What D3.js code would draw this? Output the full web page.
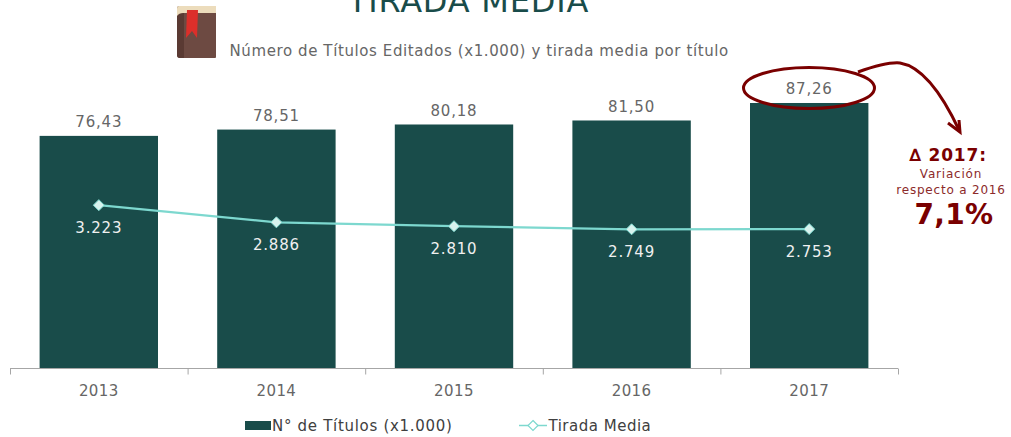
<!DOCTYPE html>
<html><head><meta charset="utf-8">
<script src="https://cdn.jsdelivr.net/npm/d3@7/dist/d3.min.js"></script>
<style>html,body{margin:0;padding:0;background:#fff}svg{display:block}text{font-family:"DejaVu Sans",Verdana,sans-serif}</style>
</head><body>
<script>
const years = ["2013","2014","2015","2016","2017"];
const titulos = [76.43,78.51,80.18,81.50,87.26];
const tirada = [3223,2886,2810,2749,2753];
const titulosLabels = ["76,43","78,51","80,18","81,50","87,26"];
const tiradaLabels = ["3.223","2.886","2.810","2.749","2.753"];
const C = {bar:"#194c4a", line:"#7dd8cf", red:"#7a0000", text:"#666666"};

const svg = d3.select("body").append("svg").attr("width",1011).attr("height",437);
const x = d3.scaleBand().domain(years).range([10,898]).paddingInner(1/3).paddingOuter(1/6);
const xTicks = d3.scaleBand().domain(years).range([10,898]);
const yBar = d3.scaleLinear().domain([0,100]).range([368,64.3]);
const yLine = d3.scaleLinear().domain([0,6000]).range([369.5,63.5]);

// title
svg.append("text").attr("x",468.5).attr("y",12).attr("text-anchor","middle")
  .attr("font-size",32).attr("letter-spacing",0.8).attr("fill",C.bar).text("TIRADA MEDIA");
svg.append("text").attr("x",229.5).attr("y",56).attr("font-size",15).attr("letter-spacing",0.6).attr("fill",C.text)
  .text("Número de Títulos Editados (x1.000) y tirada media por título");

// book icon
const b = svg.append("g").attr("transform","translate(177,5)");
b.append("path").attr("d","M2,1 H39 V52 Q39,53 38,53 H3 Q0,53 0,50 V4 Q0,1 2,1Z").attr("fill","#6d4a42");
b.append("path").attr("d","M0,8 H7 V53 H3 Q0,53 0,50Z").attr("fill","#5a3a33");
b.append("path").attr("d","M2,1 H39 V8 H6 Q2,8 0,11 V4 Q0,1 2,1Z").attr("fill","#ecdcbc");
b.append("path").attr("d","M9,33 L10,5 H21 L20,33 L15,26 L9,33Z").attr("fill","#dc2f2a");

// bars
svg.append("g").selectAll("rect").data(years).join("rect")
  .attr("x",d=>x(d)).attr("width",x.bandwidth())
  .attr("y",(d,i)=>yBar(titulos[i])).attr("height",(d,i)=>yBar(0)-yBar(titulos[i]))
  .attr("fill",C.bar);

// axis
const axis = d3.axisBottom(xTicks).tickSize(0).tickPadding(16.5);
const gx = svg.append("g").attr("transform","translate(0,368.5)").call(axis);
gx.select(".domain").remove();
gx.append("path").attr("d","M10,0H898").attr("stroke","#a6a6a6").attr("fill","none");
gx.selectAll(".sep").data(d3.range(6)).join("line").attr("class","sep")
  .attr("x1",i=>10.5+i*xTicks.step()).attr("x2",i=>10.5+i*xTicks.step()).attr("y1",0).attr("y2",6).attr("stroke","#a6a6a6");
gx.selectAll(".tick text").attr("font-size",15).attr("letter-spacing",0.4).attr("fill",C.text).style("font-family",'"DejaVu Sans"');

// bar labels
svg.append("g").selectAll("text").data(years).join("text")
  .attr("x",d=>x(d)+x.bandwidth()/2).attr("y",(d,i)=>yBar(titulos[i])-8.5)
  .attr("text-anchor","middle").attr("font-size",15).attr("letter-spacing",0.8).attr("fill",C.text)
  .text((d,i)=>titulosLabels[i]);

// line
const lineGen = d3.line().x((d,i)=>x(years[i])+x.bandwidth()/2).y(d=>yLine(d));
svg.append("path").datum(tirada).attr("d",lineGen).attr("fill","none").attr("stroke",C.line).attr("stroke-width",2.2);
svg.append("g").selectAll("path").data(tirada).join("path")
  .attr("d","M0,-5.5L5.5,0L0,5.5L-5.5,0Z")
  .attr("transform",(d,i)=>`translate(${x(years[i])+x.bandwidth()/2},${yLine(d)})`)
  .attr("fill","#d8f3ee").attr("stroke",C.line).attr("stroke-width",1);
svg.append("g").selectAll("text").data(tirada).join("text")
  .attr("x",(d,i)=>x(years[i])+x.bandwidth()/2).attr("y",d=>yLine(d)+27.5)
  .attr("text-anchor","middle").attr("font-size",15).attr("letter-spacing",0.8).attr("fill","#f0f0f0")
  .text((d,i)=>tiradaLabels[i]);

// highlight ellipse and arrow
svg.append("ellipse").attr("cx",809).attr("cy",88).attr("rx",65.5).attr("ry",20.5)
  .attr("fill","none").attr("stroke",C.red).attr("stroke-width",3);
svg.append("path").attr("d","M858,72 C878,65 890,62 900,63 C925,67 945,100 959.5,131")
  .attr("fill","none").attr("stroke",C.red).attr("stroke-width",3);
svg.append("path").attr("d","M948,123 L960,132 L959,120")
  .attr("fill","none").attr("stroke",C.red).attr("stroke-width",3);

// annotation
svg.append("text").attr("x",948).attr("y",161).attr("text-anchor","middle").attr("font-size",17).attr("letter-spacing",0.8)
  .attr("font-weight","bold").attr("fill",C.red).text("∆ 2017:");
svg.append("text").attr("x",951).attr("y",178).attr("text-anchor","middle").attr("font-size",12).attr("letter-spacing",0.8)
  .attr("fill","#8c2a2a").text("Variación");
svg.append("text").attr("x",951).attr("y",194).attr("text-anchor","middle").attr("font-size",12).attr("letter-spacing",0.8)
  .attr("fill","#8c2a2a").text("respecto a 2016");
svg.append("text").attr("x",954).attr("y",223.5).attr("text-anchor","middle").attr("font-size",28).attr("letter-spacing",0.3)
  .attr("font-weight","bold").attr("fill",C.red).text("7,1%");

// legend
svg.append("rect").attr("x",245).attr("y",421).attr("width",26).attr("height",9).attr("fill",C.bar);
svg.append("text").attr("x",272).attr("y",431).attr("font-size",15).attr("letter-spacing",0.7).attr("fill","#404040").text("N° de Títulos (x1.000)");
svg.append("path").attr("d","M519,425.5H547").attr("stroke",C.line).attr("stroke-width",1.5);
svg.append("path").attr("d","M533,420.5L538,425.5L533,430.5L528,425.5Z").attr("fill","#fff").attr("stroke",C.line).attr("stroke-width",1.2);
svg.append("text").attr("x",548.5).attr("y",431).attr("font-size",15).attr("letter-spacing",0.5).attr("fill","#404040").text("Tirada Media");
</script>
</body></html>
